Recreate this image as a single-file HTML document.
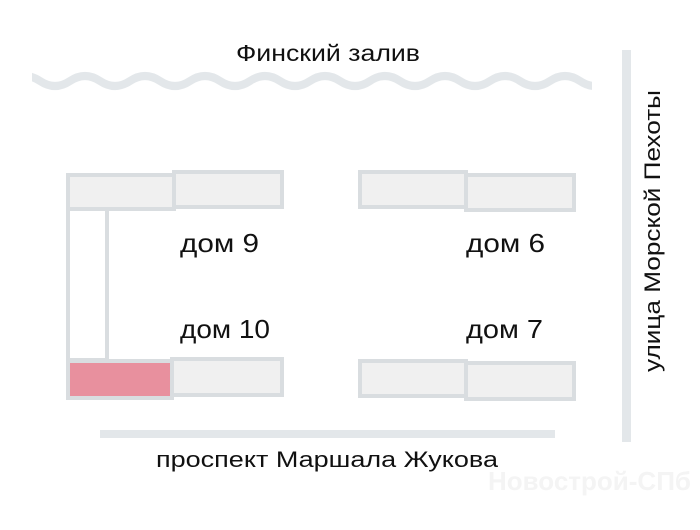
<!DOCTYPE html>
<html><head><meta charset="utf-8"><style>
body{margin:0;background:#fff}
svg text{font-family:"Liberation Sans","DejaVu Sans",sans-serif;fill:#111}
</style></head><body>
<svg width="700" height="525" viewBox="0 0 700 525" xmlns="http://www.w3.org/2000/svg">
<defs><clipPath id="c"><rect x="32" y="60" width="560" height="40"/></clipPath></defs>
<text x="236" y="61" font-size="23" textLength="184" lengthAdjust="spacingAndGlyphs">Финский залив</text>
<path clip-path="url(#c)" d="M10,81 Q25,71 40,81 Q55,91 70,81 T100,81 T130,81 T160,81 T190,81 T220,81 T250,81 T280,81 T310,81 T340,81 T370,81 T400,81 T430,81 T460,81 T490,81 T520,81 T550,81 T580,81 T610,81" fill="none" stroke="#e3e7ea" stroke-width="8"/>
<g fill="#f0f0f0" stroke="#d9dde0" stroke-width="4">
<rect x="68" y="175" width="106" height="34"/>
<rect x="174" y="172" width="108" height="35"/>
<rect x="68" y="209" width="39" height="151" fill="#fff"/>
<rect x="172" y="359" width="110" height="36"/>
<rect x="68" y="361" width="104" height="37" fill="#e8909e"/>
<rect x="360" y="172" width="106" height="35"/>
<rect x="466" y="175" width="108" height="35"/>
<rect x="360" y="361" width="106" height="35"/>
<rect x="466" y="363" width="108" height="36"/>
</g>
<rect x="100" y="430" width="455" height="8" fill="#e3e7ea"/>
<rect x="622" y="50" width="9" height="392" fill="#e3e7ea"/>
<text x="180" y="252" font-size="26" textLength="79" lengthAdjust="spacingAndGlyphs">дом 9</text>
<text x="180" y="338" font-size="26" textLength="90" lengthAdjust="spacingAndGlyphs">дом 10</text>
<text x="466" y="252" font-size="26" textLength="79" lengthAdjust="spacingAndGlyphs">дом 6</text>
<text x="466" y="338" font-size="26" textLength="77" lengthAdjust="spacingAndGlyphs">дом 7</text>
<text x="156" y="467" font-size="22" textLength="342" lengthAdjust="spacingAndGlyphs">проспект Маршала Жукова</text>
<text transform="translate(660,372) rotate(-90)" font-size="22" textLength="282" lengthAdjust="spacingAndGlyphs">улица Морской Пехоты</text>
<text x="488" y="490" font-size="26" font-weight="bold" style="fill:#f4f4f4">Новострой-СПб</text>
</svg>
</body></html>
